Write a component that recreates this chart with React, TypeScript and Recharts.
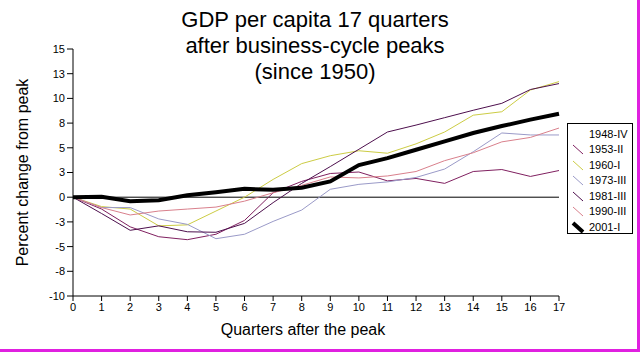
import { LineChart, Line, XAxis, YAxis, ReferenceLine } from "recharts"

const quarters = [0, 1, 2, 3, 4, 5, 6, 7, 8, 9, 10, 11, 12, 13, 14, 15, 16, 17]

const s1953 = [0, -1.2, -3.0, -4.0, -4.3, -3.75, -2.35, 0.45, 1.6, 2.4, 2.55, 1.65, 1.9, 1.4, 2.6, 2.8, 2.1, 2.7]
const s1960 = [0, -0.95, -1.2, -2.9, -2.8, -1.4, 0.0, 1.8, 3.4, 4.2, 4.7, 4.45, 5.4, 6.6, 8.3, 8.65, 10.85, 11.7]
const s1973 = [0, -1.05, -1.05, -2.2, -2.75, -4.2, -3.75, -2.45, -1.3, 0.8, 1.3, 1.55, 2.0, 2.85, 4.6, 6.5, 6.3, 6.3]
const s1981 = [0, -1.65, -3.35, -2.9, -3.5, -3.55, -2.65, -0.55, 1.4, 3.1, 4.85, 6.6, 7.3, 8.05, 8.8, 9.5, 10.9, 11.5]
const s1990 = [0, -1.05, -1.8, -1.4, -1.2, -1.0, -0.4, 0.45, 1.2, 2.05, 1.95, 2.15, 2.6, 3.7, 4.5, 5.6, 6.05, 7.0]
const s2001 = [0, 0.05, -0.4, -0.3, 0.2, 0.5, 0.85, 0.75, 0.95, 1.6, 3.25, 3.95, 4.8, 5.65, 6.5, 7.2, 7.85, 8.45]

const yTicks = [-10, -7.5, -5, -2.5, 0, 2.5, 5, 7.5, 10, 12.5, 15]

// legend order as in the picture; 1948-IV has no visible line
const legendNames = ["1948-IV", "1953-II", "1960-I", "1973-III", "1981-III", "1990-III", "2001-I"]
const legendColors = ["transparent", "#802060", "#cccc44", "#9a9ac8", "#4d0f4d", "#d9808c", "#000000"]
const legendWidths = [1, 1, 1, 1, 1, 1, 4]

const data = quarters.map((q, i) => ({
    q,
    s1953: s1953[i],
    s1960: s1960[i],
    s1973: s1973[i],
    s1981: s1981[i],
    s1990: s1990[i],
    s2001: s2001[i],
}))

const font = "'Liberation Sans', Arial, sans-serif"

const roundTick = (v: number) => String(Math.sign(v) * Math.round(Math.abs(v)))

const YLabel = (props: any) => {
    const vb = props.viewBox
    const cx = vb.x + 22
    const cy = vb.y + vb.height / 2
    return (
        <text x={cx} y={cy} transform={`rotate(-90, ${cx}, ${cy})`} textAnchor="middle"
            dominantBaseline="central" fontSize={16} fontFamily={font} fill="#000">
            Percent change from peak
        </text>
    )
}

const XLabel = (props: any) => {
    const vb = props.viewBox
    const cx = vb.x + vb.width / 2 - 13
    return (
        <text x={cx} y={vb.y + 33} textAnchor="middle" dominantBaseline="central"
            fontSize={16} fontFamily={font} fill="#000">
            Quarters after the peak
        </text>
    )
}

export default function App() {
    const tick = { fill: "#000", fontSize: 11, fontFamily: font }
    return (
        <div style={{ position: "absolute", left: 0, top: 0, width: 640, height: 352, background: "#fff", fontFamily: font }}>
            <div style={{ position: "absolute", left: 0, top: 7, width: 630, textAlign: "center", fontSize: 22, lineHeight: "26px", color: "#000" }}>
                GDP per capita 17 quarters<br />after business-cycle peaks<br />(since 1950)
            </div>

            <LineChart width={640} height={352} data={data} margin={{ top: 49, right: 81, bottom: 16, left: 0 }}>
                <XAxis
                    dataKey="q"
                    type="number"
                    domain={[0, 17]}
                    ticks={quarters}
                    interval={0}
                    height={40}
                    stroke="#000"
                    tickSize={5}
                    tick={tick}
                    label={<XLabel />}
                />
                <YAxis
                    type="number"
                    domain={[-10, 15]}
                    ticks={yTicks}
                    interval={0}
                    width={73}
                    stroke="#000"
                    tickSize={6}
                    tick={tick}
                    tickFormatter={roundTick}
                    label={<YLabel />}
                />
                <ReferenceLine y={0} stroke="#000" strokeWidth={1} />
                <Line type="linear" dataKey="s1953" stroke={legendColors[1]} strokeWidth={1} dot={false} isAnimationActive={false} />
                <Line type="linear" dataKey="s1960" stroke={legendColors[2]} strokeWidth={1} dot={false} isAnimationActive={false} />
                <Line type="linear" dataKey="s1973" stroke={legendColors[3]} strokeWidth={1} dot={false} isAnimationActive={false} />
                <Line type="linear" dataKey="s1981" stroke={legendColors[4]} strokeWidth={1} dot={false} isAnimationActive={false} />
                <Line type="linear" dataKey="s1990" stroke={legendColors[5]} strokeWidth={1} dot={false} isAnimationActive={false} />
                <Line type="linear" dataKey="s2001" stroke={legendColors[6]} strokeWidth={4} dot={false} isAnimationActive={false} />
            </LineChart>

            <div style={{ position: "absolute", left: 567, top: 123, width: 64, height: 109, border: "1px solid #000", background: "#fff" }}>
                {legendNames.map((name, i) => (
                    <div key={name} style={{ position: "absolute", left: 3, top: 2 + i * 15.5, height: 15, display: "flex", alignItems: "center" }}>
                        <svg width={14} height={14} style={{ marginRight: 4 }}>
                            <line x1={2} y1={3} x2={12} y2={12} stroke={legendColors[i]} strokeWidth={legendWidths[i]} />
                        </svg>
                        <span style={{ fontSize: 11, color: "#000" }}>{name}</span>
                    </div>
                ))}
            </div>

            <div style={{ position: "absolute", left: 637, top: 0, width: 3, height: 352, background: "#e020e0" }} />
            <div style={{ position: "absolute", left: 0, top: 349, width: 640, height: 3, background: "#e020e0" }} />
        </div>
    )
}
